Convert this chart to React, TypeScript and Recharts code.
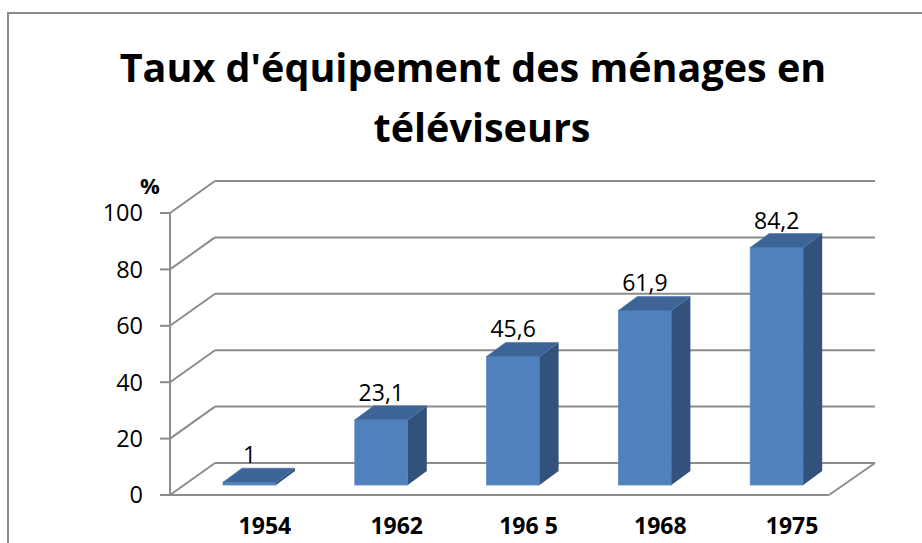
import React from "react";
import { BarChart, Bar, XAxis, YAxis, CartesianGrid, LabelList } from "recharts";

const categories = ["1954", "1962", "196 5", "1968", "1975"];
const values = [1, 23.1, 45.6, 61.9, 84.2];
const yTicks = [0, 20, 40, 60, 80, 100];

const data = categories.map((c, i) => ({ year: c, taux: values[i] }));

const W = 922;
const H = 543;
const WALL_DX = 45;
const WALL_DY = -32;
const BAR_OFF_DX = 14;
const BAR_OFF_DY = -10;
const BAR_DX = 19;
const BAR_DY = -14;
const LABEL_SHIFT = 15;
const GRID = "#8c8c8c";
const FONT = "'Open Sans', 'DejaVu Sans', sans-serif";

const GridLine = (props: any) => {
  const { x1, y1, x2, y, height, index } = props;
  const isBottom = typeof y === "number" && typeof height === "number" ? Math.abs(y1 - (y + height)) < 1 : index === 0;
  const bx1 = x1 + WALL_DX;
  const bx2 = x2 + WALL_DX + 1;
  const by = y1 + WALL_DY;
  return (
    <g key={`g-${index}`}>
      <line x1={x1} y1={y1} x2={bx1} y2={by} stroke={GRID} strokeWidth={2} />
      <line x1={bx1} y1={by} x2={bx2} y2={by} stroke={GRID} strokeWidth={2} />
      {isBottom && <line x1={x2} y1={y1} x2={bx2} y2={by} stroke={GRID} strokeWidth={2} />}
    </g>
  );
};

const Bar3D = (props: any) => {
  const { x, y, width, height } = props;
  if (x == null || y == null) return null;
  const fx = x + BAR_OFF_DX;
  const fy = y + BAR_OFF_DY;
  const h = Math.max(height, 0);
  const top = `${fx},${fy} ${fx + width},${fy} ${fx + width + BAR_DX},${fy + BAR_DY} ${fx + BAR_DX},${fy + BAR_DY}`;
  const side = `${fx + width},${fy} ${fx + width + BAR_DX},${fy + BAR_DY} ${fx + width + BAR_DX},${fy + h + BAR_DY} ${fx + width},${fy + h}`;
  return (
    <g>
      <rect x={fx} y={fy} width={width} height={h} fill="#4f81bd" stroke="#5a8ac4" strokeWidth={0.8} />
      <polygon points={side} fill="#32527c" />
      <polygon points={top} fill="#3c6496" stroke="#4a74a8" strokeWidth={0.6} />
    </g>
  );
};

const ValueLabel = (props: any) => {
  const { x, y, width, value } = props;
  return (
    <text
      x={x + width / 2 + BAR_OFF_DX}
      y={y - 29}
      textAnchor="middle"
      fontFamily={FONT}
      fontSize={23}
      fill="#000"
    >
      {String(value).replace(".", ",")}
    </text>
  );
};

const XTick = (props: any) => {
  const { x, y, payload } = props;
  return (
    <text x={x + BAR_OFF_DX + LABEL_SHIFT} y={y + 31} textAnchor="middle" fontFamily={FONT} fontSize={23} fontWeight={700} fill="#000">
      {payload.value}
    </text>
  );
};

const titleStyle: React.CSSProperties = {
  textAlign: "center",
  fontFamily: FONT,
  fontWeight: 700,
  fontSize: 39.5,
  lineHeight: "60px",
  color: "#000",
  whiteSpace: "nowrap",
};

export default function App() {
  return (
    <div style={{ position: "absolute", left: 0, top: 0, width: W, height: H, overflow: "hidden", background: "#fff" }}>
      <div
        style={{
          position: "absolute",
          left: 7,
          top: 12,
          width: 1000,
          height: 1000,
          border: "2px solid #8a8a8a",
          boxSizing: "border-box",
        }}
      />
      <div style={{ position: "absolute", left: 0, top: 37, width: 946 }}>
        <div style={titleStyle}>Taux d'équipement des ménages en</div>
        <div style={{ ...titleStyle, paddingLeft: 18 }}>téléviseurs</div>
      </div>
      <div
        style={{
          position: "absolute",
          left: 140,
          top: 170,
          fontFamily: FONT,
          fontWeight: 700,
          fontSize: 22,
          lineHeight: "30px",
          color: "#000",
        }}
      >
        %
      </div>
      <div style={{ position: "absolute", left: 0, top: 0 }}>
        <BarChart width={W} height={H} data={data} margin={{ top: 213, right: 93, bottom: 0, left: 110 }} barSize={53}>
          <CartesianGrid vertical={false} horizontal={(p: any) => <GridLine {...p} />} />
          <XAxis
            dataKey="year"
            height={48}
            axisLine={{ stroke: GRID, strokeWidth: 2 }}
            tickLine={false}
            tick={<XTick />}
            interval={0}
          />
          <YAxis
            width={60}
            domain={[0, 100]}
            ticks={yTicks}
            axisLine={{ stroke: GRID, strokeWidth: 2 }}
            tickLine={{ stroke: GRID, strokeWidth: 2 }}
            tickSize={10}
            tickMargin={17}
            tick={{ fontFamily: FONT, fontSize: 23.5, fill: "#000" }}
            allowDataOverflow
          />
          <Bar dataKey="taux" shape={<Bar3D />} isAnimationActive={false}>
            <LabelList dataKey="taux" content={<ValueLabel />} />
          </Bar>
        </BarChart>
      </div>
    </div>
  );
}
